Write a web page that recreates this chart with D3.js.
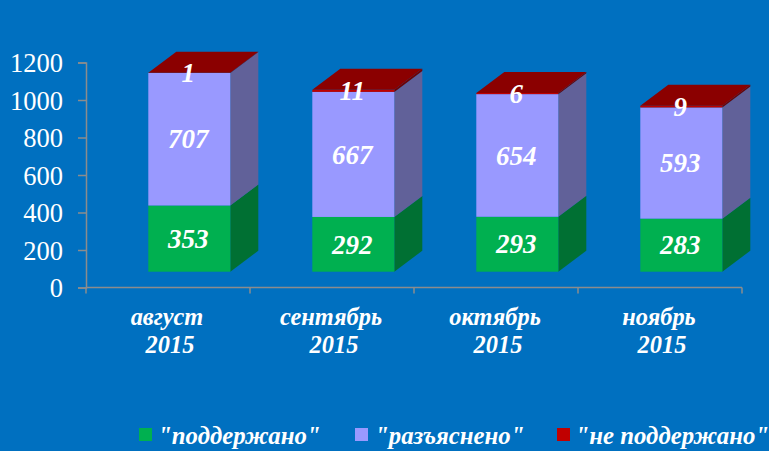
<!DOCTYPE html>
<html>
<head>
<meta charset="utf-8">
<script src="https://cdn.jsdelivr.net/npm/d3@7"></script>
<style>
html, body { margin: 0; padding: 0; background: #0070C0; }
svg { display: block; }
text { font-family: "Liberation Serif", serif; fill: #fff; }
</style>
</head>
<body>
<div id="chart"></div>
<script>
const categories = ['август', 'сентябрь', 'октябрь', 'ноябрь'];
const year = '2015';
const supported = [353, 292, 293, 283];
const explained = [707, 667, 654, 593];
const rejected = [1, 11, 6, 9];
const yTicks = [0, 200, 400, 600, 800, 1000, 1200];

const seriesNames = ['"поддержано"', '"разъяснено"', '"не поддержано"'];
const seriesValues = [supported, explained, rejected];
const frontColors = ['#00B050', '#9999FF', '#C00000'];
const sideColors = ['#007033', '#616199', '#730000'];
const topColors = ['#00B050', '#9999FF', '#8B0000'];
const legendX = [139, 355, 557];
const legendTextX = [158, 375, 575.5];

const width = 769;
const height = 451;

// 3d offsets
const depthX = 28;
const depthY = 21;
const baseX = 21.3;
const baseY = 15.8;

const svg = d3.select('#chart')
    .append('svg')
    .attr('width', width)
    .attr('height', height);

svg.append('rect')
    .attr('width', width)
    .attr('height', height)
    .attr('fill', '#0070C0');

const x = d3.scaleBand()
    .domain(categories)
    .range([86, 742])
    .paddingInner(0.5)
    .paddingOuter(0.25);

const y = d3.scaleLinear()
    .domain([0, 1200])
    .range([287.5, 62.5]);

// Axes
const yAxis = d3.axisLeft(y).tickValues(yTicks).tickFormat(d3.format('d')).tickSize(8).tickPadding(15);
const gy = svg.append('g').attr('transform', 'translate(86,0)').call(yAxis);
gy.selectAll('path, line').attr('stroke', '#8C8C8C').attr('stroke-width', 1.5);
gy.selectAll('text')
    .attr('font-size', 26.5)
    .attr('fill', '#fff')
    .attr('dy', '0.34em');

const axisLine = svg.append('g');
const tickPositions = d3.range(categories.length + 1).map(i => 86 + i * x.step());
axisLine.append('line')
    .attr('x1', 86).attr('x2', 742)
    .attr('y1', y(0)).attr('y2', y(0))
    .attr('stroke', '#8C8C8C').attr('stroke-width', 1.5);
axisLine.selectAll('.tick')
    .data(tickPositions)
    .enter()
    .append('line')
    .attr('class', 'tick')
    .attr('x1', d => d).attr('x2', d => d)
    .attr('y1', y(0)).attr('y2', y(0) + 6)
    .attr('stroke', '#8C8C8C').attr('stroke-width', 1.5);

// Category labels
const catLabels = svg.selectAll('.cat')
    .data(categories)
    .enter()
    .append('text')
    .attr('class', 'cat')
    .attr('text-anchor', 'middle')
    .attr('font-size', 24.4)
    .attr('font-weight', 'bold')
    .attr('font-style', 'italic');
catLabels.append('tspan')
    .attr('x', d => x(d) + x.bandwidth() / 2 - 1)
    .attr('y', 325)
    .text(d => d);
catLabels.append('tspan')
    .attr('x', d => x(d) + x.bandwidth() / 2 + 2)
    .attr('y', 353)
    .text(year);

// Stacked bars, front face + side + top
const stacks = categories.map((c, i) => {
    let sum = 0;
    return seriesValues.map((vals, s) => {
        const d = { cat: c, series: s, value: vals[i], y0: sum, y1: sum + vals[i] };
        sum += vals[i];
        return d;
    });
});

const px = d => x(d.cat) + baseX;
const py = v => y(v) - baseY;

const bars = svg.selectAll('.bar')
    .data(stacks)
    .enter()
    .append('g')
    .attr('class', 'bar');

bars.each(function (stack) {
    const g = d3.select(this);
    stack.forEach(d => {
        const x0 = px(d);
        const x1 = x0 + x.bandwidth();
        g.append('polygon')
            .attr('points', [
                [x1, py(d.y0)],
                [x1 + depthX, py(d.y0) - depthY],
                [x1 + depthX, py(d.y1) - depthY],
                [x1, py(d.y1)]
            ].join(' '))
            .attr('fill', sideColors[d.series]);
        g.append('rect')
            .attr('x', x0)
            .attr('y', py(d.y1))
            .attr('width', x.bandwidth())
            .attr('height', py(d.y0) - py(d.y1))
            .attr('fill', frontColors[d.series]);
    });
    const last = stack[stack.length - 1];
    const x0 = px(last);
    const x1 = x0 + x.bandwidth();
    g.append('polygon')
        .attr('points', [
            [x0, py(last.y1)],
            [x1, py(last.y1)],
            [x1 + depthX, py(last.y1) - depthY],
            [x0 + depthX, py(last.y1) - depthY]
        ].join(' '))
        .attr('fill', topColors[last.series]);
});

// Data labels
bars.each(function (stack) {
    d3.select(this).selectAll('.val')
        .data(stack)
        .enter()
        .append('text')
        .attr('class', 'val')
        .attr('x', d => px(d) + x.bandwidth() / 2 - 1)
        .attr('y', d => py((d.y0 + d.y1) / 2))
        .attr('dy', '0.34em')
        .attr('text-anchor', 'middle')
        .attr('font-size', 27)
        .attr('font-weight', 'bold')
        .attr('font-style', 'italic')
        .text(d => d.value);
});

// Legend
const legend = svg.selectAll('.legend')
    .data(seriesNames)
    .enter()
    .append('g')
    .attr('class', 'legend');
legend.append('rect')
    .attr('x', (d, i) => legendX[i])
    .attr('y', 428)
    .attr('width', 13)
    .attr('height', 13)
    .attr('fill', (d, i) => frontColors[i]);
legend.append('text')
    .attr('x', (d, i) => legendTextX[i])
    .attr('y', 444)
    .attr('font-size', 24.8)
    .attr('font-weight', 'bold')
    .attr('font-style', 'italic')
    .text(d => d);
</script>
</body>
</html>
